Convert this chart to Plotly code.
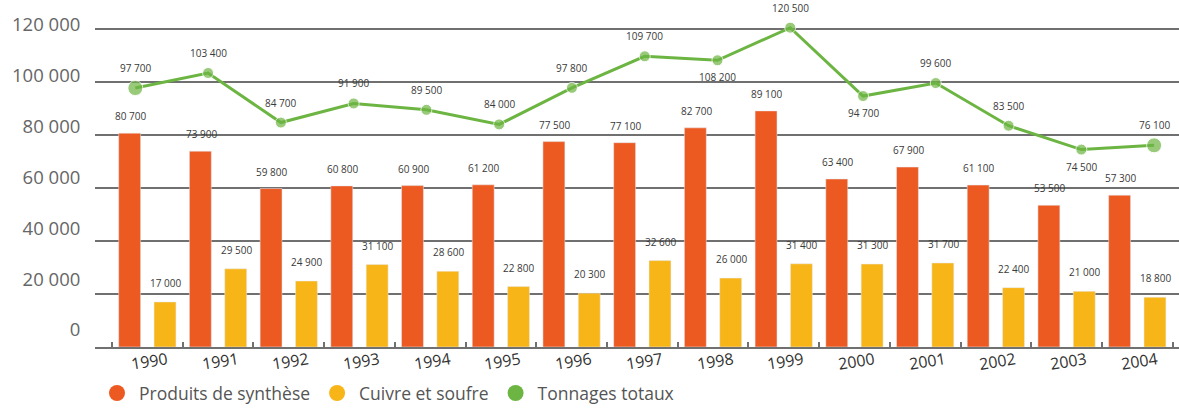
import plotly.graph_objects as go

years = ["1990", "1991", "1992", "1993", "1994", "1995", "1996", "1997", "1998", "1999",
         "2000", "2001", "2002", "2003", "2004"]
synthese = [80700, 73900, 59800, 60800, 60900, 61200, 77500, 77100, 82700, 89100,
            63400, 67900, 61100, 53500, 57300]
cuivre = [17000, 29500, 24900, 31100, 28600, 22800, 20300, 32600, 26000, 31400,
          31300, 31700, 22400, 21000, 18800]
totaux = [97700, 103400, 84700, 91900, 89500, 84000, 97800, 109700, 108200, 120500,
          94700, 99600, 83500, 74500, 76100]
# label placement for the totals line: True = above the point
totaux_label_above = [True, True, True, True, True, True, True, True, False, True,
                      False, True, True, False, True]
y_ticks = [0, 20000, 40000, 60000, 80000, 100000, 120000]
series_names = ["Produits de synthèse", "Cuivre et soufre", "Tonnages totaux"]

ORANGE = "#EC5A22"
YELLOW = "#F8B517"
GREEN = "#6DB543"
GRID = "#707070"
FONT = "Open Sans"

n = len(years)
pos = list(range(n))  # category slots on the x scale


def fmt(v):
    return f"{v:,}".replace(",", " ")


fig = go.Figure()
fig.add_trace(go.Bar(x=pos, y=synthese, name=series_names[0], marker_color=ORANGE,
                     showlegend=False))
fig.add_trace(go.Bar(x=pos, y=cuivre, name=series_names[1], marker_color=YELLOW,
                     showlegend=False))
fig.add_trace(go.Scatter(x=pos, y=totaux, name=series_names[2], xaxis="x2",
                         mode="lines+markers", line=dict(color=GREEN, width=3),
                         marker=dict(color=GREEN,
                                     size=[15 if i in (0, n - 1) else 11 for i in range(n)]),
                         showlegend=False))
# invisible helper trace carrying the tick-label axis
fig.add_trace(go.Scatter(x=[0], y=[0], yaxis="y2", mode="markers",
                         marker=dict(opacity=0), showlegend=False, hoverinfo="skip"))
# legend entries (round swatches)
for name, col in zip(series_names, [ORANGE, YELLOW, GREEN]):
    fig.add_trace(go.Scatter(x=[None], y=[None], mode="markers", name=name,
                             marker=dict(color=col, size=16, symbol="circle")))

annotations = []
for i in range(n):
    annotations.append(dict(x=pos[i], y=synthese[i], xref="x", yref="y", text=fmt(synthese[i]),
                            showarrow=False, yanchor="bottom", yshift=8, xshift=-17,
                            font=dict(size=10, color="#3a3a3a", family=FONT)))
    annotations.append(dict(x=pos[i], y=cuivre[i], xref="x", yref="y", text=fmt(cuivre[i]),
                            showarrow=False, yanchor="bottom", yshift=10, xshift=18,
                            font=dict(size=10, color="#3a3a3a", family=FONT)))
    above = totaux_label_above[i]
    annotations.append(dict(x=pos[i], y=totaux[i], xref="x2", yref="y", text=fmt(totaux[i]),
                            showarrow=False, yanchor="bottom" if above else "top",
                            yshift=11 if above else -8,
                            font=dict(size=10, color="#3a3a3a", family=FONT)))
    # tilted year labels under each category
    annotations.append(dict(x=pos[i], y=0, xref="x", yref="y", text=years[i], showarrow=False,
                            yanchor="middle", yshift=-14, xshift=2, textangle=-9,
                            font=dict(size=16, color="#333", family=FONT)))

fig.update_layout(
    width=1179, height=412,
    margin=dict(l=95, r=0, t=0, b=65, autoexpand=False),
    plot_bgcolor="white", paper_bgcolor="white",
    font=dict(family=FONT, color="#555"),
    barmode="group", bargap=0, bargroupgap=0.38,
    xaxis=dict(range=[-0.74, 14.59], tickvals=pos, showticklabels=False, ticks="",
               minor=dict(tickvals=[p + 0.5 for p in [-1] + pos], ticks="inside",
                          ticklen=5, tickcolor=GRID, tickwidth=1.5, showgrid=False),
               showline=True, linecolor=GRID, linewidth=1.5, showgrid=False,
               zeroline=False, automargin=False),
    xaxis2=dict(overlaying="x", range=[-0.554, 14.342], showticklabels=False, ticks="",
                showgrid=False, zeroline=False, showline=False, automargin=False),
    yaxis=dict(range=[0, 130943], tickvals=y_ticks, showticklabels=False,
               showgrid=True, gridcolor=GRID, gridwidth=1.5, zeroline=False,
               automargin=False),
    yaxis2=dict(overlaying="y", side="left", range=[-6689, 129836], tickvals=y_ticks,
                ticktext=[fmt(v) for v in y_ticks], showgrid=False, zeroline=False,
                automargin=False, ticks="outside", ticklen=10, tickcolor="rgba(0,0,0,0)",
                tickfont=dict(size=18.5, color="#666", family=FONT)),
    legend=dict(orientation="h", x=0.0, y=-0.133, xanchor="left", yanchor="middle",
                font=dict(size=17.5, color="#555", family=FONT), bgcolor="rgba(0,0,0,0)",
                itemsizing="trace", traceorder="normal", itemwidth=34),
    annotations=annotations,
    showlegend=True,
)

fig.write_html("out.html", config={"displayModeBar": False},
               post_script="document.body.style.margin='0';")
